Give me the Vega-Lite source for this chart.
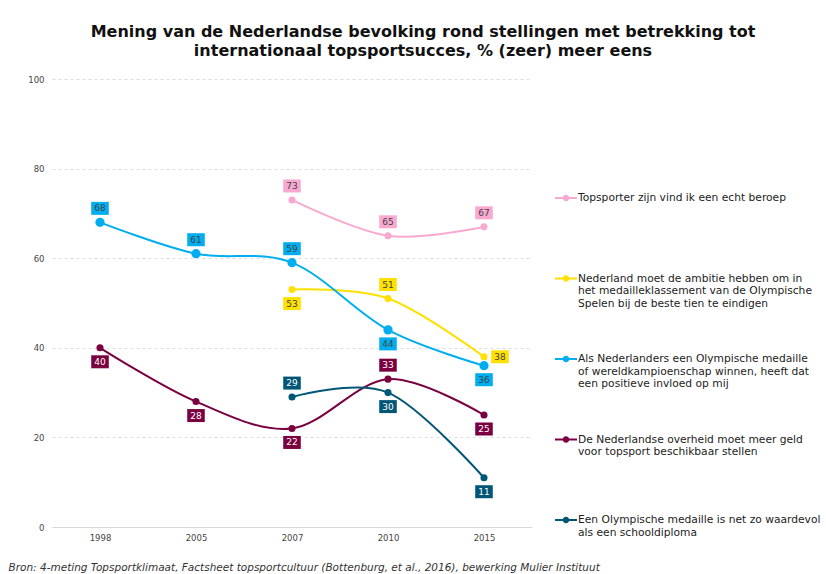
{
  "$schema": "https://vega.github.io/schema/vega-lite/v6.json",
  "width": 480,
  "height": 448,
  "autosize": "none",
  "padding": {"left": 52, "top": 79, "right": 294, "bottom": 47},
  "background": "white",
  "title": {
    "text": ["Mening van de Nederlandse bevolking rond stellingen met betrekking tot", "internationaal topsportsucces, % (zeer) meer eens"],
    "font": "DejaVu Sans",
    "fontSize": 16,
    "fontWeight": "bold",
    "color": "#111111",
    "anchor": "middle",
    "frame": "group",
    "dx": 131,
    "offset": 16,
    "lineHeight": 19
  },
  "config": {
    "view": {"stroke": null},
    "font": "DejaVu Sans"
  },
  "data": {
    "values": [
      {"stelling": "Topsporter zijn vind ik een echt beroep", "jaar": "2007", "pct": 73},
      {"stelling": "Topsporter zijn vind ik een echt beroep", "jaar": "2010", "pct": 65},
      {"stelling": "Topsporter zijn vind ik een echt beroep", "jaar": "2015", "pct": 67},
      {"stelling": "Nederland moet de ambitie hebben om in het medailleklassement van de Olympische Spelen bij de beste tien te eindigen", "jaar": "2007", "pct": 53},
      {"stelling": "Nederland moet de ambitie hebben om in het medailleklassement van de Olympische Spelen bij de beste tien te eindigen", "jaar": "2010", "pct": 51},
      {"stelling": "Nederland moet de ambitie hebben om in het medailleklassement van de Olympische Spelen bij de beste tien te eindigen", "jaar": "2015", "pct": 38},
      {"stelling": "Als Nederlanders een Olympische medaille of wereldkampioenschap winnen, heeft dat een positieve invloed op mij", "jaar": "1998", "pct": 68},
      {"stelling": "Als Nederlanders een Olympische medaille of wereldkampioenschap winnen, heeft dat een positieve invloed op mij", "jaar": "2005", "pct": 61},
      {"stelling": "Als Nederlanders een Olympische medaille of wereldkampioenschap winnen, heeft dat een positieve invloed op mij", "jaar": "2007", "pct": 59},
      {"stelling": "Als Nederlanders een Olympische medaille of wereldkampioenschap winnen, heeft dat een positieve invloed op mij", "jaar": "2010", "pct": 44},
      {"stelling": "Als Nederlanders een Olympische medaille of wereldkampioenschap winnen, heeft dat een positieve invloed op mij", "jaar": "2015", "pct": 36},
      {"stelling": "De Nederlandse overheid moet meer geld voor topsport beschikbaar stellen", "jaar": "1998", "pct": 40},
      {"stelling": "De Nederlandse overheid moet meer geld voor topsport beschikbaar stellen", "jaar": "2005", "pct": 28},
      {"stelling": "De Nederlandse overheid moet meer geld voor topsport beschikbaar stellen", "jaar": "2007", "pct": 22},
      {"stelling": "De Nederlandse overheid moet meer geld voor topsport beschikbaar stellen", "jaar": "2010", "pct": 33},
      {"stelling": "De Nederlandse overheid moet meer geld voor topsport beschikbaar stellen", "jaar": "2015", "pct": 25},
      {"stelling": "Een Olympische medaille is net zo waardevol als een schooldiploma", "jaar": "2007", "pct": 29},
      {"stelling": "Een Olympische medaille is net zo waardevol als een schooldiploma", "jaar": "2010", "pct": 30},
      {"stelling": "Een Olympische medaille is net zo waardevol als een schooldiploma", "jaar": "2015", "pct": 11}
    ]
  },
  "encoding": {
    "x": {
      "field": "jaar",
      "type": "ordinal",
      "scale": {"type": "point", "padding": 0.5, "domain": ["1998", "2005", "2007", "2010", "2015"]},
      "axis": {
        "labelAngle": 0,
        "labelFont": "DejaVu Sans",
        "labelFontSize": 8.5,
        "labelColor": "#444444",
        "labelPadding": 6,
        "ticks": false,
        "domainColor": "#d9d9d9",
        "domainWidth": 1,
        "grid": false,
        "title": "Bron: 4-meting Topsportklimaat, Factsheet topsportcultuur (Bottenburg, et al., 2016), bewerking Mulier Instituut",
        "titleFont": "DejaVu Sans",
        "titleFontSize": 10.5,
        "titleFontStyle": "italic",
        "titleFontWeight": "normal",
        "titleColor": "#333333",
        "titleAnchor": "start",
        "titleAlign": "left",
        "titleBaseline": "alphabetic",
        "titleX": -44,
        "titleY": 43
      }
    },
    "y": {
      "field": "pct",
      "type": "quantitative",
      "scale": {"domain": [0, 100]},
      "axis": {
        "values": [0, 20, 40, 60, 80, 100],
        "title": null,
        "domain": false,
        "ticks": false,
        "labelFont": "DejaVu Sans",
        "labelFontSize": 8.5,
        "labelColor": "#444444",
        "labelPadding": 8,
        "gridColor": "#dddddd",
        "gridDash": [3, 3],
        "gridWidth": 1
      }
    },
    "color": {
      "field": "stelling",
      "type": "nominal",
      "scale": {
        "domain": [
          "Topsporter zijn vind ik een echt beroep",
          "Nederland moet de ambitie hebben om in het medailleklassement van de Olympische Spelen bij de beste tien te eindigen",
          "Als Nederlanders een Olympische medaille of wereldkampioenschap winnen, heeft dat een positieve invloed op mij",
          "De Nederlandse overheid moet meer geld voor topsport beschikbaar stellen",
          "Een Olympische medaille is net zo waardevol als een schooldiploma"
        ],
        "range": ["#F9A9D0", "#FFE000", "#00AEEF", "#7A0040", "#005677"]
      },
      "legend": {
        "title": null,
        "orient": "none",
        "legendX": 503,
        "legendY": 108,
        "symbolType": "M-1,-0.09H1V0.09H-1Z M0.3,0A0.3,0.3,0,1,1,-0.3,0A0.3,0.3,0,1,1,0.3,0Z",
        "symbolSize": 484,
        "symbolStrokeWidth": 0,
        "labelFont": "DejaVu Sans",
        "labelFontSize": 10.7,
        "labelColor": "#222222",
        "labelLineHeight": 13,
        "labelLimit": 400,
        "labelOffset": 1,
        "rowPadding": 38.5,
        "encode": {
          "symbols": {"update": {"fill": {"scale": "color", "field": "value"}, "stroke": {"scale": "color", "field": "value"}, "strokeWidth": {"value": 0}, "opacity": {"value": 1}}}
        },
        "labelExpr": "indexof(datum.label,'Topsporter')>=0 ? ['Topsporter zijn vind ik een echt beroep',' ',' '] : indexof(datum.label,'ambitie')>=0 ? ['Nederland moet de ambitie hebben om in','het medailleklassement van de Olympische','Spelen bij de beste tien te eindigen'] : indexof(datum.label,'Als Ned')>=0 ? ['Als Nederlanders een Olympische medaille','of wereldkampioenschap winnen, heeft dat','een positieve invloed op mij'] : indexof(datum.label,'overheid')>=0 ? ['De Nederlandse overheid moet meer geld','voor topsport beschikbaar stellen',' '] : ['Een Olympische medaille is net zo waardevol','als een schooldiploma',' ']"
      }
    }
  },
  "layer": [
    {
      "mark": {"type": "line", "interpolate": "cardinal", "strokeWidth": 2}
    },
    {
      "mark": {"type": "point", "filled": true, "opacity": 1, "shape": "circle"},
      "encoding": {
        "size": {"condition": {"test": "indexof(datum.stelling,'Als Ned')>=0", "value": 85}, "value": 50}
      }
    },
    {
      "transform": [{"filter": "!((indexof(datum.stelling,'ambitie')>=0 && (datum.jaar=='2007' || datum.jaar=='2015')) || (indexof(datum.stelling,'Als Ned')>=0 && (datum.jaar=='2010' || datum.jaar=='2015')) || (indexof(datum.stelling,'overheid')>=0 && datum.jaar!='2010') || (indexof(datum.stelling,'schooldiploma')>=0 && datum.jaar!='2007'))"}],
      "layer": [
        {"mark": {"type": "point", "filled": true, "opacity": 1, "size": 169, "shape": "M-1.35,-1H1.35V1H-1.35Z", "yOffset": -14}},
        {"mark": {"type": "text", "font": "DejaVu Sans", "fontSize": 9, "yOffset": -14, "baseline": "middle", "align": "center"},
         "encoding": {"text": {"field": "pct", "type": "quantitative"}, "color": {"condition": {"test": "indexof(datum.stelling,'overheid')>=0 || indexof(datum.stelling,'schooldiploma')>=0", "value": "#ffffff"}, "value": "#444444"}}}
      ]
    },
    {
      "transform": [{"filter": "(indexof(datum.stelling,'ambitie')>=0 && datum.jaar=='2007') || (indexof(datum.stelling,'Als Ned')>=0 && (datum.jaar=='2010' || datum.jaar=='2015')) || (indexof(datum.stelling,'overheid')>=0 && datum.jaar!='2010') || (indexof(datum.stelling,'schooldiploma')>=0 && datum.jaar!='2007')"}],
      "layer": [
        {"mark": {"type": "point", "filled": true, "opacity": 1, "size": 169, "shape": "M-1.35,-1H1.35V1H-1.35Z", "yOffset": 14}},
        {"mark": {"type": "text", "font": "DejaVu Sans", "fontSize": 9, "yOffset": 14, "baseline": "middle", "align": "center"},
         "encoding": {"text": {"field": "pct", "type": "quantitative"}, "color": {"condition": {"test": "indexof(datum.stelling,'overheid')>=0 || indexof(datum.stelling,'schooldiploma')>=0", "value": "#ffffff"}, "value": "#444444"}}}
      ]
    },
    {
      "transform": [{"filter": "indexof(datum.stelling,'ambitie')>=0 && datum.jaar=='2015'"}],
      "layer": [
        {"mark": {"type": "point", "filled": true, "opacity": 1, "size": 169, "shape": "M-1.35,-1H1.35V1H-1.35Z", "xOffset": 16}},
        {"mark": {"type": "text", "font": "DejaVu Sans", "fontSize": 9, "xOffset": 16, "baseline": "middle", "align": "center"},
         "encoding": {"text": {"field": "pct", "type": "quantitative"}, "color": {"value": "#444444"}}}
      ]
    }
  ]
}
